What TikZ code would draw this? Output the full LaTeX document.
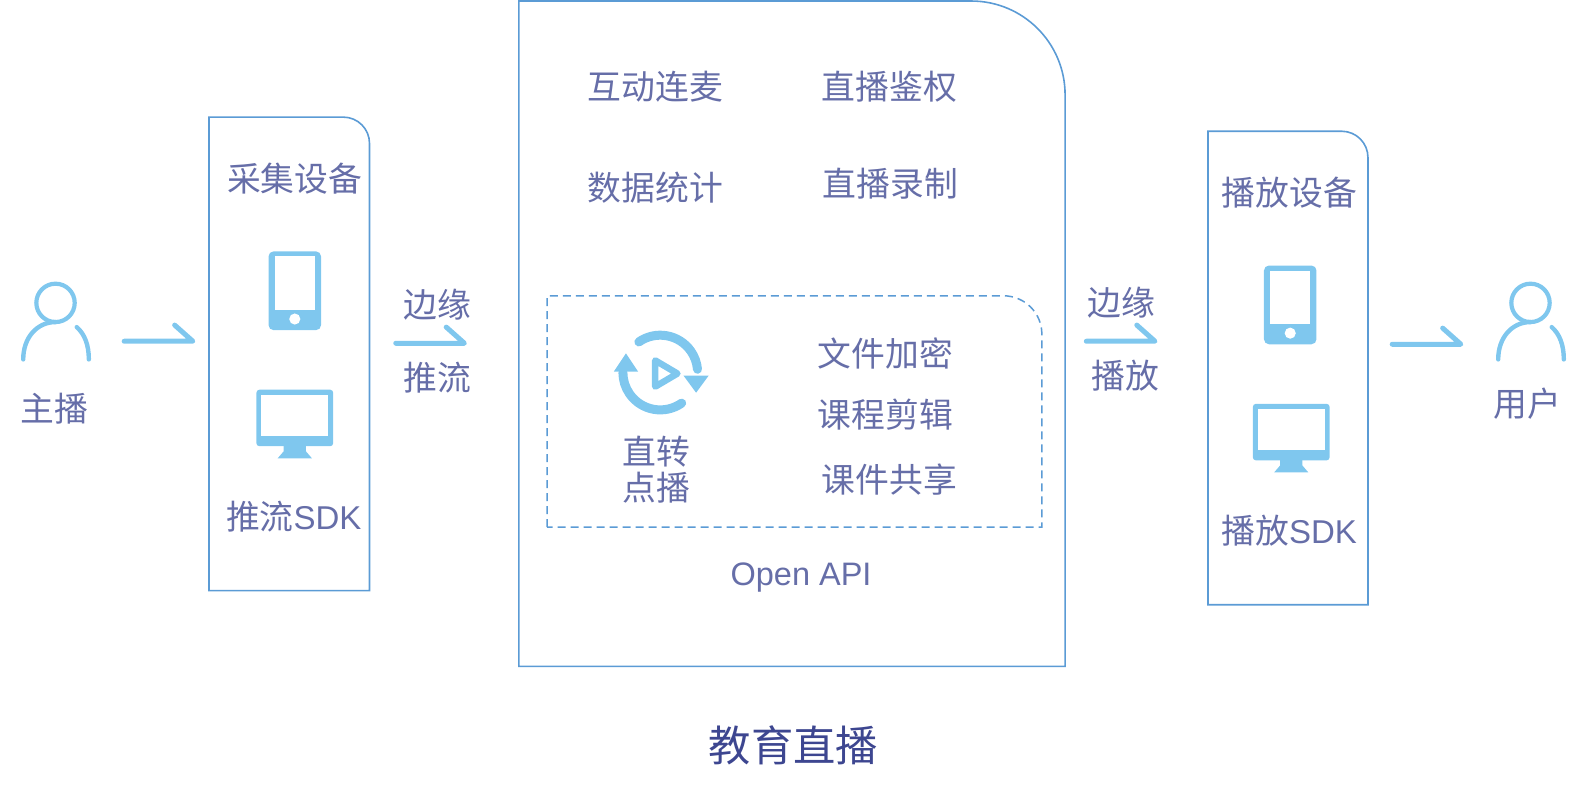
\documentclass[tikz,border=0pt]{standalone}
\usepackage{fontspec}
\setmainfont{Noto Sans CJK SC}
\newfontfamily\latinfont{Liberation Sans}
\definecolor{txt}{HTML}{666EA8}
\definecolor{ttl}{HTML}{3D4690}
\definecolor{edge}{HTML}{5B9BD5}
\definecolor{ico}{HTML}{7FC7EE}
\newcommand{\sdk}{{\latinfont\fontsize{33}{36}\selectfont SDK}}
\tikzset{
  lbl/.style={inner sep=0pt,text=txt,font=\fontsize{33.8}{36}\selectfont,align=center},
  title/.style={inner sep=0pt,text=ttl,font=\fontsize{42.3}{46}\selectfont},
  panel/.style={draw=edge,line width=1.6pt},
  halfarrow/.style={draw=ico,line width=5pt,line cap=round,line join=round},
  icoline/.style={draw=ico,line width=4.4pt,line cap=round},
  person/.pic={
    \draw[icoline,line width=4.2pt] (0,-22) circle (19);
    \draw[icoline] (-32,34) .. controls (-32,12) and (-18,-3) .. (0,-3);
    \draw[icoline] (21,2) .. controls (29,9) and (33,20) .. (33,34);
  },
  phone/.pic={
    \fill[ico,rounded corners=5pt] (-26,-39) rectangle (26,39);
    \fill[white] (-20,-34) rectangle (20,19);
    \fill[white] (0,28) circle (5.5);
  },
  monitor/.pic={
    \fill[ico,rounded corners=3pt] (-38,-35) rectangle (38,21);
    \fill[white] (-33,-30) rectangle (33,11);
    \fill[ico] (-11,20) -- (11,20) -- (11,26) -- (17,33) -- (-17,33) -- (-11,26) -- cycle;
  },
  replay/.pic={
    \draw[ico,line width=9pt,line cap=round] (-125:37) arc[start angle=-125,end angle=-5,radius=37];
    \draw[ico,line width=9pt,line cap=round] (55:37) arc[start angle=55,end angle=180,radius=37];
    \fill[ico] (-46,-1) -- (-34,-19) -- (-22,-1) -- cycle;
    \fill[ico] (23,3) -- (48,3) -- (35.5,20) -- cycle;
    \draw[ico,line width=6.5pt,line join=round] (-5,-12) -- (17,1) -- (-5,14) -- cycle;
  }
}
\begin{document}
\begin{tikzpicture}[x=1.0096pt,y=-1.0096pt]
\useasboundingbox (0,0) rectangle (1568,792.4);
% panels
\draw[panel] (207,585) -- (207,116) -- (340,116) arc[start angle=-90,end angle=0,radius=26] -- (366,585) -- cycle;
\draw[panel] (1196.5,599) -- (1196.5,130) -- (1329,130) arc[start angle=-90,end angle=0,radius=26] -- (1355,599) -- cycle;
\draw[panel] (514,660) -- (514,1) -- (962,1) arc[start angle=-90,end angle=0,radius=93] -- (1055,660) -- cycle;
\draw[draw=edge,line width=1.5pt,dash pattern=on 8pt off 5pt] (542,522) -- (542,293) -- (994,293) arc[start angle=-90,end angle=0,radius=38] -- (1032,522) -- cycle;
% icons
\pic at (55,322) {person};
\pic at (1516,322) {person};
\pic at (292,288) {phone};
\pic at (1278,302) {phone};
\pic at (292,421) {monitor};
\pic at (1279,435) {monitor};
\pic at (654,369) {replay};
% half arrows
\foreach \n/\x/\y in {a/123/338,b/392/340,c/1076/338,d/1379/341}{
  \coordinate (\n s) at (\x,\y);
  \coordinate (\n e) at (\x+68,\y);
  \coordinate (\n h) at (\x+50,\y-16);
  \draw[halfarrow] (\n s) -- (\n e) -- (\n h);
}
% labels
\node[lbl] (zb) at (54,405) {主播};
\node[lbl] (yh) at (1513,400) {用户};
\node[lbl] (cj) at (292,177) {采集设备};
\node[lbl] (tl) at (291,512) {推流\sdk};
\node[lbl] (by) at (433,302) {边缘};
\node[lbl] (tp) at (433,374) {推流};
\node[lbl] (hd) at (649,86) {互动连麦};
\node[lbl] (zj) at (881,86) {直播鉴权};
\node[lbl] (sj) at (649,186) {数据统计};
\node[lbl] (lz) at (882,182) {直播录制};
\node[lbl] (wj) at (877,350) {文件加密};
\node[lbl] (kc) at (877,411) {课程剪辑};
\node[lbl] (kj) at (881,475) {课件共享};
\node[lbl] (zz) at (650,447) {直转};
\node[lbl] (db) at (650,483) {点播};
\node[lbl,font=\fontsize{32.5}{36}\latinfont] (oa) at (793.5,572) {Open API};
\node[lbl] (by2) at (1111,300) {边缘};
\node[lbl] (bf) at (1115,372) {播放};
\node[lbl] (bs) at (1277,191) {播放设备};
\node[lbl] (bk) at (1277,526) {播放\sdk};
\node[title] (jy) at (786,738) {教育直播};
\end{tikzpicture}
\end{document}
